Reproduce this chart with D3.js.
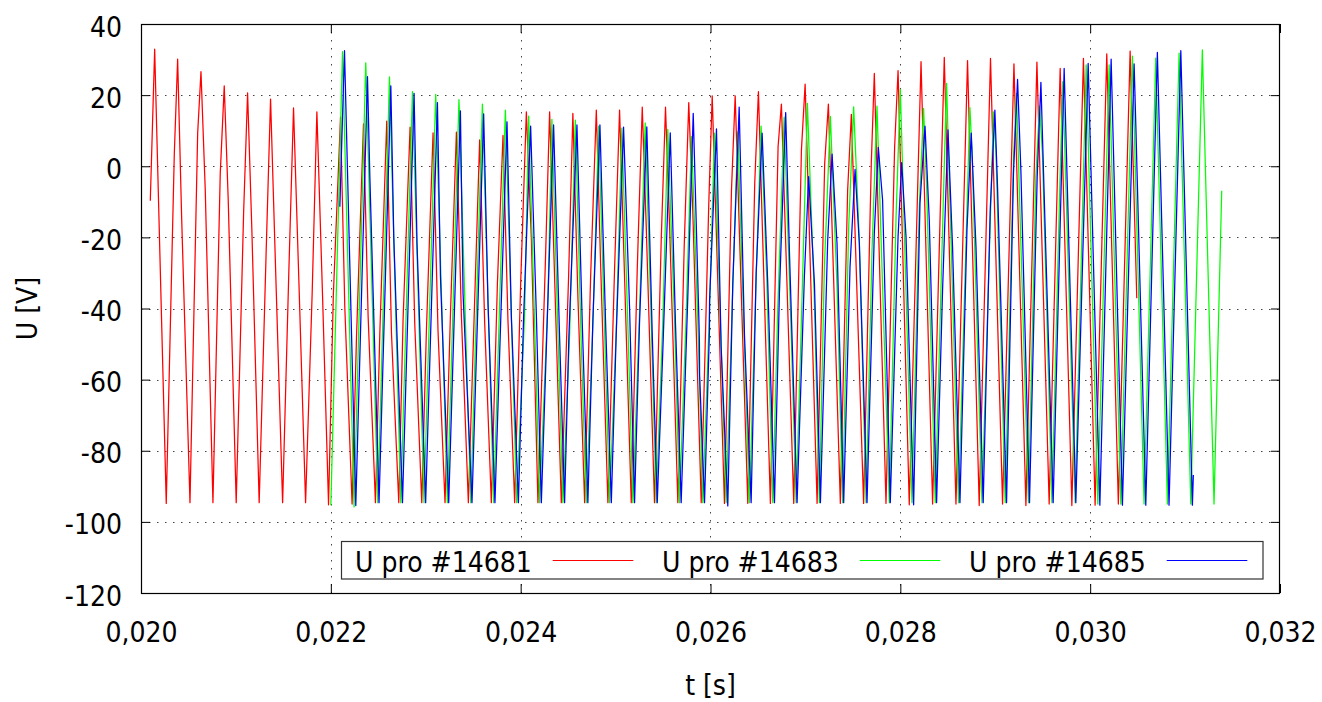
<!DOCTYPE html>
<html>
<head>
<meta charset="utf-8">
<script src="https://cdn.jsdelivr.net/npm/d3@7/dist/d3.min.js"></script>
<style>
  html, body { margin: 0; padding: 0; background: #fff; }
  svg { display: block; }
  text { font-family: 'DejaVu Sans Condensed', 'DejaVu Sans', sans-serif; font-stretch: condensed; font-size: 28px; fill: #000; }
</style>
</head>
<body>
<svg id="chart" width="1322" height="702"></svg>
<script>
// ---------- DATA (time in milliseconds -> converted to seconds, voltage in V) ----------
const xTicks = [0.020, 0.022, 0.024, 0.026, 0.028, 0.030, 0.032];
const yTicks = [-120, -100, -80, -60, -40, -20, 0, 20, 40];
const seriesNames = ["U pro #14681", "U pro #14683", "U pro #14685"];

const redT = [20.098,20.144,20.266,20.351,20.386,20.428,20.516,20.597,20.632,20.677,20.758,20.835,20.877,20.919,21.003,21.081,21.123,21.168,21.245,21.323,21.365,21.410,21.492,21.558,21.607,21.663,21.734,21.803,21.853,21.913,21.976,22.026,22.102,22.147,22.224,22.270,22.344,22.393,22.470,22.516,22.589,22.639,22.716,22.761,22.835,22.884,22.958,23.007,23.077,23.129,23.203,23.260,23.323,23.376,23.449,23.505,23.568,23.621,23.691,23.755,23.814,23.866,23.937,24.000,24.060,24.113,24.182,24.260,24.305,24.350,24.428,24.505,24.550,24.603,24.674,24.737,24.797,24.842,24.919,24.989,25.042,25.084,25.165,25.228,25.281,25.323,25.410,25.481,25.526,25.568,25.656,25.723,25.771,25.814,25.902,25.982,26.018,26.147,26.221,26.260,26.393,26.466,26.505,26.631,26.712,26.747,26.877,26.958,26.997,27.123,27.203,27.242,27.368,27.445,27.484,27.613,27.694,27.726,27.849,27.940,27.976,28.094,28.218,28.340,28.463,28.586,28.708,28.831,28.950,29.077,29.197,29.323,29.439,29.568,29.684,29.807,29.929,30.052,30.175,30.297,30.421,30.491].map(v => v / 1000);
const redU = [-9.7,32.9,-94.8,3.6,30.1,-14.2,-94.6,9.3,26.6,-6.7,-94.6,-2.0,22.6,-9.5,-94.6,-13.2,20.6,-17.9,-94.6,-19.8,18.9,-21.7,-94.6,-29.2,16.4,-32.0,-94.6,-36.0,15.3,-36.7,-95.2,-36.5,13.8,-39.5,-95.0,-48.4,11.9,-42.3,-94.6,-47.0,12.7,-47.0,-94.6,-43.2,11.0,-44.2,-94.6,-46.1,9.4,-46.1,-94.6,-41.8,9.6,-42.3,-94.6,-46.5,7.4,-44.2,-94.6,-32.9,8.7,-43.2,-94.6,-32.9,15.3,-20.7,-94.6,-27.3,15.3,-24.5,-94.6,-31.1,14.9,-36.7,-94.6,-31.1,15.8,-27.3,-94.6,-29.2,15.8,-21.7,-94.6,-29.2,16.6,-17.0,-94.6,-20.7,16.6,-16.0,-94.6,-22.6,17.9,-13.2,-94.6,-10.4,19.8,-94.8,-6.7,19.8,-94.8,-4.8,21.0,-94.8,5.5,17.5,-94.8,4.6,23.1,-94.8,0.8,17.5,-94.8,-6.7,14.6,-94.8,0.8,26.1,-94.8,5.5,26.9,-95.2,29.4,-95.0,30.6,-95.0,29.7,-95.4,30.3,-95.0,28.8,-95.4,29.3,-95.0,27.5,-95.4,30.3,-95.3,31.6,-95.0,32.4,-37.1];

const greenT = [22.000,22.123,22.245,22.368,22.495,22.618,22.737,22.860,22.982,23.105,23.228,23.350,23.474,23.597,23.716,23.839,23.958,24.042,24.084,24.147,24.200,24.287,24.329,24.393,24.445,24.516,24.576,24.639,24.691,24.761,24.821,24.884,24.937,25.007,25.066,25.129,25.182,25.252,25.312,25.376,25.428,25.498,25.550,25.621,25.674,25.744,25.800,25.866,25.919,25.989,26.042,26.112,26.165,26.228,26.287,26.358,26.410,26.481,26.533,26.592,26.656,26.708,26.776,26.849,26.902,26.955,27.021,27.091,27.147,27.200,27.263,27.333,27.392,27.456,27.508,27.568,27.639,27.702,27.754,27.800,27.884,27.955,28.000,28.123,28.200,28.245,28.277,28.368,28.456,28.487,28.613,28.733,28.755,28.860,28.982,29.007,29.105,29.192,29.224,29.350,29.428,29.466,29.497,29.597,29.681,29.712,29.842,29.958,30.081,30.200,30.323,30.445,30.568,30.691,30.814,30.937,31.060,31.182,31.305,31.386].map(v => v / 1000);
const greenU = [-95.3,32.2,-95.8,29.1,-94.6,25.1,-94.6,21.0,-94.6,20.2,-94.6,18.7,-94.6,17.5,-94.6,15.8,-94.6,-41.4,14.1,-44.2,-94.6,-37.6,13.2,-47.0,-94.6,-47.0,13.0,-50.7,-94.6,-44.2,11.3,-46.1,-94.6,-46.1,10.7,-44.2,-94.6,-41.4,12.2,-44.2,-94.6,-43.2,10.4,-43.2,-94.6,-41.4,8.3,-43.2,-94.6,-40.9,9.3,-50.7,-94.6,-39.5,9.7,-50.7,-94.6,-31.1,11.3,-31.1,-94.6,-40.5,13.8,-46.1,-94.6,-46.1,17.7,-34.8,-94.6,-28.3,14.0,-33.9,-94.6,-17.0,16.7,-20.7,-94.6,-23.5,16.9,-22.6,-94.6,-14.2,21.6,-94.6,-11.3,16.3,-5.8,-94.6,-6.7,23.3,-94.6,16.5,4.0,-94.6,15.3,4.6,-94.6,1.8,20.5,-94.6,-2.9,16.9,3.6,-94.6,-4.8,23.8,-94.6,28.5,-95.0,28.5,-95.0,31.0,-95.0,30.4,-95.0,31.8,-95.0,32.7,-95.0,-6.9];

const blueT = [22.095,22.144,22.263,22.386,22.411,22.508,22.632,22.663,22.755,22.877,22.908,22.999,23.123,23.155,23.242,23.365,23.393,23.487,23.610,23.656,23.729,23.856,23.902,23.976,24.031,24.105,24.165,24.218,24.287,24.347,24.410,24.463,24.508,24.593,24.649,24.708,24.761,24.835,24.895,24.955,25.007,25.084,25.147,25.200,25.252,25.329,25.386,25.439,25.498,25.576,25.631,25.691,25.761,25.818,25.877,25.883,25.885,25.937,25.989,25.990,26.063,26.112,26.182,26.235,26.302,26.358,26.428,26.481,26.544,26.603,26.674,26.726,26.792,26.831,26.912,26.989,27.034,27.095,27.158,27.235,27.281,27.333,27.403,27.470,27.523,27.568,27.649,27.726,27.768,27.813,27.894,27.976,28.014,28.060,28.140,28.207,28.260,28.305,28.382,28.445,28.502,28.550,28.628,28.702,28.747,28.797,28.873,28.947,28.996,29.024,29.119,29.192,29.235,29.270,29.361,29.442,29.481,29.610,29.726,29.849,29.979,30.102,30.221,30.340,30.463,30.481,30.586,30.708,30.831,30.955,31.077,31.087].map(v => v / 1000);
const blueU = [-11.4,32.5,-95.4,25.2,-2.9,-94.6,22.6,-19.8,-94.6,20.5,-21.7,-94.6,17.9,-31.1,-94.6,15.6,-35.8,-94.6,14.7,-38.6,-94.6,12.5,-42.3,-94.6,-42.3,11.3,-41.4,-94.6,-37.6,11.6,-47.9,-94.6,-47.9,11.6,-44.2,-94.6,-43.2,11.6,-44.2,-94.6,-47.0,11.0,-39.5,-94.6,-44.2,11.1,-47.0,-94.6,-51.6,9.4,-44.2,-94.6,-36.7,14.9,-42.3,-49.0,-58.5,-94.6,-46.1,-38.0,10.5,-50.7,-95.5,-32.9,16.6,-47.5,-94.6,-30.1,9.3,-32.9,-94.6,-35.8,15.1,-23.5,-94.6,-31.1,-2.9,-32.9,-94.6,-20.7,3.4,-21.7,-94.6,-28.3,-0.9,-21.7,-94.6,-18.8,5.3,-9.5,-94.6,-19.8,1.0,-19.8,-95.2,-10.4,11.3,-15.1,-94.6,-34.8,10.2,-22.6,-94.6,-17.9,9.3,-22.6,-94.6,-12.3,15.8,-5.8,-94.6,-2.0,24.4,-1.1,-94.6,-2.9,23.6,-94.6,27.5,-94.6,28.9,-95.3,30.1,-95.3,28.8,11.6,-95.3,32.0,-95.3,32.5,-95.3,-86.8];

const seriesColors = ["#ff0000", "#00ff00", "#0000ff"];

// ---------- LAYOUT ----------
const svg = d3.select("#chart");
const L = 141, R = 1280, T = 24, B = 593;
const x = d3.scaleLinear().domain([0.020, 0.032]).range([L, R]);
const y = d3.scaleLinear().domain([-120, 40]).range([B, T]);
const fmtX = v => d3.format(".3f")(v).replace(".", ",");

// grid
const grid = svg.append("g");
grid.selectAll("line.gx").data(xTicks.slice(1, -1)).join("line")
  .attr("x1", d => Math.round(x(d)) + 0.5).attr("x2", d => Math.round(x(d)) + 0.5)
  .attr("y1", T).attr("y2", B)
  .attr("stroke", "#444").attr("stroke-width", 1).attr("stroke-dasharray", "1.5,6.5");
grid.selectAll("line.gy").data(yTicks.slice(1, -1)).join("line")
  .attr("y1", d => Math.round(y(d)) + 0.5).attr("y2", d => Math.round(y(d)) + 0.5)
  .attr("x1", L).attr("x2", R)
  .attr("stroke", "#444").attr("stroke-width", 1).attr("stroke-dasharray", "1.5,6.5");

// axes (ticks inward, mirrored)
const tickLen = 9;
const axB = svg.append("g").attr("transform", `translate(0,${B})`)
  .call(d3.axisBottom(x).tickValues(xTicks).tickFormat(fmtX).tickSizeInner(-tickLen).tickSizeOuter(0));
const axT = svg.append("g").attr("transform", `translate(0,${T})`)
  .call(d3.axisTop(x).tickValues(xTicks).tickFormat("").tickSizeInner(-tickLen).tickSizeOuter(0));
const axL = svg.append("g").attr("transform", `translate(${L},0)`)
  .call(d3.axisLeft(y).tickValues(yTicks).tickFormat(d => String(d)).tickSizeInner(-tickLen).tickSizeOuter(0));
const axR = svg.append("g").attr("transform", `translate(${R},0)`)
  .call(d3.axisRight(y).tickValues(yTicks).tickFormat("").tickSizeInner(-tickLen).tickSizeOuter(0));
[axB, axT, axL, axR].forEach(a => {
  a.select(".domain").remove();
  a.selectAll("line").attr("stroke", "#000");
  a.selectAll("text").attr("font-family", null).attr("font-size", null).attr("fill", "#000");
});
axB.selectAll("text").attr("dy", null).attr("y", 49);
axL.selectAll("text").attr("dy", null).attr("x", -19).attr("y", 12);

// data lines
const sets = [[redT, redU], [greenT, greenU], [blueT, blueU]];
const line = d3.line().x(d => x(d[0])).y(d => y(d[1]));
const plot = svg.append("g");
sets.forEach((s, i) => {
  const pts = s[0].map((t, k) => [t, s[1][k]]);
  plot.append("path").attr("d", line(pts)).attr("fill", "none")
    .attr("stroke", seriesColors[i]).attr("stroke-width", 1.25).attr("stroke-linejoin", "round");
});

// border
svg.append("rect").attr("x", L + 0.5).attr("y", T + 0.5).attr("width", R - L - 1).attr("height", B - T)
  .attr("fill", "none").attr("stroke", "#000").attr("stroke-width", 1.2);

// legend
const lg = svg.append("g");
lg.append("rect").attr("x", 341.5).attr("y", 541.5).attr("width", 921.5).attr("height", 37.5)
  .attr("fill", "#fff").attr("stroke", "#333").attr("stroke-width", 1.2);
seriesNames.forEach((n, i) => {
  const ox = i * 307;
  lg.append("text").attr("x", 355 + ox).attr("y", 572).text(n);
  lg.append("line").attr("x1", 552.7 + ox).attr("x2", 633.3 + ox).attr("y1", 560.5).attr("y2", 560.5)
    .attr("stroke", seriesColors[i]).attr("stroke-width", 1.2);
});

// axis titles
svg.append("text").attr("x", (L + R) / 2).attr("y", 695).attr("text-anchor", "middle").text("t [s]");
svg.append("text").attr("transform", `translate(37,${(T + B) / 2}) rotate(-90)`).attr("text-anchor", "middle").text("U [V]");
</script>
</body>
</html>
